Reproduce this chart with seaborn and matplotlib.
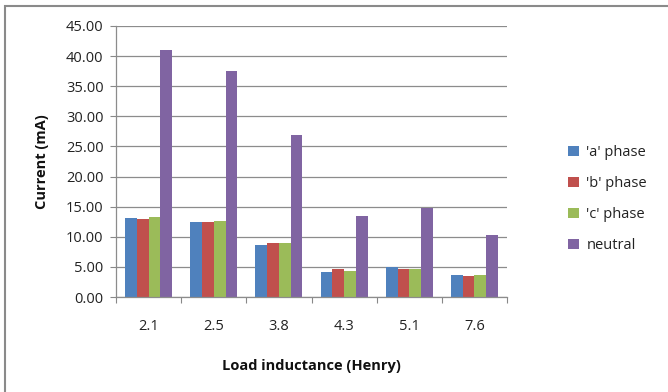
import matplotlib
matplotlib.use("Agg")
import matplotlib.pyplot as plt
import seaborn as sns
import pandas as pd
from matplotlib.patches import Rectangle

categories = ["2.1", "2.5", "3.8", "4.3", "5.1", "7.6"]
series_names = ["'a' phase", "'b' phase", "'c' phase", "neutral"]
a_phase = [13.17, 12.40, 8.69, 4.10, 4.98, 3.60]
b_phase = [13.00, 12.40, 8.97, 4.70, 4.70, 3.43]
c_phase = [13.28, 12.56, 8.97, 4.37, 4.70, 3.60]
neutral = [40.95, 37.47, 26.90, 13.45, 14.78, 10.30]
colors = ["#4F81BD", "#C0504D", "#9BBB59", "#8064A2"]
y_ticks = [0, 5, 10, 15, 20, 25, 30, 35, 40, 45]

rows = []
for name, vals in zip(series_names, [a_phase, b_phase, c_phase, neutral]):
    for cat, v in zip(categories, vals):
        rows.append({"Load": cat, "Series": name, "Current": v})
df = pd.DataFrame(rows)

sns.set_theme(style="white")
plt.rcParams["font.family"] = ["Open Sans", "DejaVu Sans"]

fig = plt.figure(figsize=(6.68, 3.92), dpi=100)
ax = fig.add_axes([0.1737, 0.2423, 0.759 - 0.1737, 0.9337 - 0.2423])

sns.barplot(data=df, x="Load", y="Current", hue="Series", order=categories,
            hue_order=series_names, palette=colors, saturation=1, width=0.72,
            ax=ax, legend=True, linewidth=0)

ax.set_ylim(0, 45)
ax.set_xlim(-0.5, len(categories) - 0.5)
ax.set_yticks(y_ticks)
ax.set_yticklabels([f"{t:.2f}" for t in y_ticks], fontsize=10.5, color="#222222")
ax.tick_params(axis="x", labelsize=10.5, colors="#222222", length=0, pad=16)
ax.tick_params(axis="y", length=4, width=0.8, color="#888888", pad=5, left=True)
ax.yaxis.grid(True, color="#8c8c8c", linewidth=0.9)
ax.set_axisbelow(True)
for s in ["top", "right"]:
    ax.spines[s].set_visible(False)
ax.spines["left"].set_color("#8c8c8c")
ax.spines["bottom"].set_color("#8c8c8c")
ax.spines["left"].set_linewidth(0.9)
ax.spines["bottom"].set_linewidth(0.9)

# group boundary ticks on x axis
ax.set_xticks([i - 0.5 for i in range(len(categories) + 1)], minor=True)
ax.tick_params(axis="x", which="minor", length=4, width=0.8, color="#888888", bottom=True)

ax.set_xlabel("Load inductance (Henry)", fontsize=10.5, fontweight="bold", labelpad=18, color="#111111")
ax.set_ylabel("Current (mA)", fontsize=10.5, fontweight="bold", labelpad=12, color="#111111")

leg = ax.legend(loc="center left", bbox_to_anchor=(555 / 668, 1 - 199 / 392),
                bbox_transform=fig.transFigure, frameon=False,
                fontsize=10.5, handlelength=0.75, handleheight=0.75,
                labelspacing=1.1, handletextpad=0.5)
for t in leg.get_texts():
    t.set_color("#222222")

fig.patches.append(Rectangle((5 / 668, -0.1), 1.2, 1 - 6.5 / 392 + 0.1,
                             transform=fig.transFigure, fill=False,
                             edgecolor="#8a8a8a", linewidth=1.5, zorder=-1))

fig.savefig("out.png", dpi=100)
